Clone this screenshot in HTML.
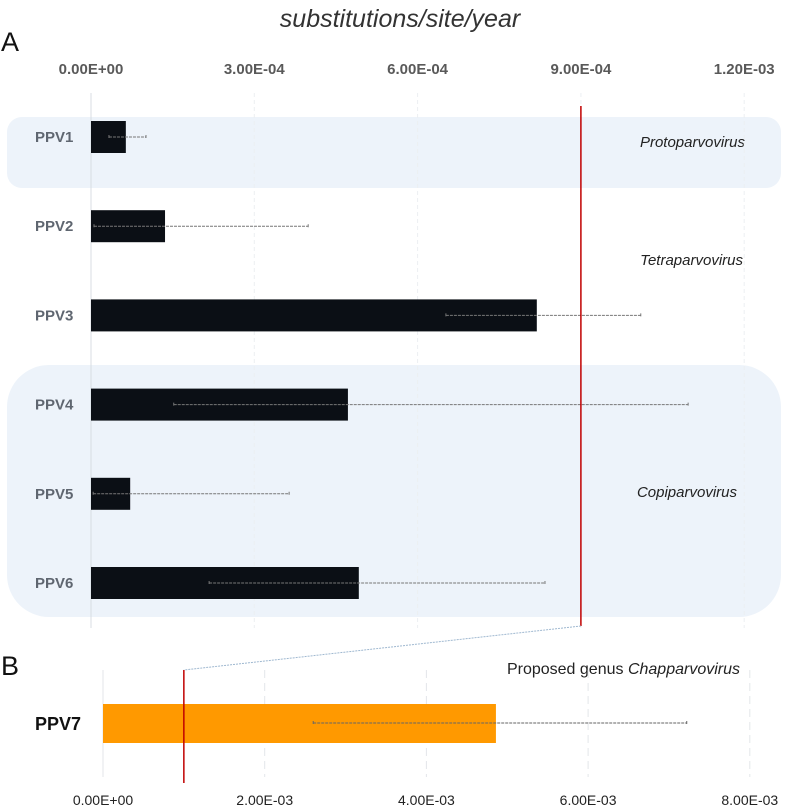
<!DOCTYPE html>
<html><head><meta charset="utf-8"><style>
body{margin:0;background:#fff;}
svg text{font-family:"Liberation Sans",sans-serif;}
</style></head><body>
<svg id="c" width="787" height="806" xmlns="http://www.w3.org/2000/svg">
<text x="400" y="27" font-size="25" font-style="italic" fill="#333" text-anchor="middle">substitutions/site/year</text>
<text x="1" y="51" font-size="27" fill="#111">A</text>
<text x="1" y="675" font-size="27" fill="#111">B</text>
<rect x="7" y="117" width="774" height="71" rx="15" fill="#edf3fa"/>
<rect x="7" y="365" width="774" height="252" rx="42" fill="#edf3fa"/>
<text x="745" y="147" font-size="15" font-style="italic" fill="#222" text-anchor="end">Protoparvovirus</text>
<text x="743" y="265" font-size="15" font-style="italic" fill="#222" text-anchor="end">Tetraparvovirus</text>
<text x="737" y="497" font-size="15" font-style="italic" fill="#222" text-anchor="end">Copiparvovirus</text>
<text x="740" y="674" font-size="16" fill="#222" text-anchor="end">Proposed genus <tspan font-style="italic">Chapparvovirus</tspan></text>
<g id="ga"></g><g id="gb"></g>
</svg>
<script>
const catsA=["PPV1","PPV2","PPV3","PPV4","PPV5","PPV6"];
const valsA=[6.4e-5,1.36e-4,8.19e-4,4.72e-4,7.2e-5,4.92e-4];
const loA=[3.3e-5,5.5e-6,6.52e-4,1.52e-4,4e-6,2.17e-4];
const hiA=[1.01e-4,3.99e-4,1.01e-3,1.097e-3,3.64e-4,8.34e-4];
const ticksA=[0,3e-4,6e-4,9e-4,1.2e-3];
const tickLabelsA=["0.00E+00","3.00E-04","6.00E-04","9.00E-04","1.20E-03"];
const thresholdA=9e-4;
const catsB=["PPV7"];
const valsB=[4.86e-3];
const loB=[2.6e-3];
const hiB=[7.22e-3];
const ticksB=[0,2e-3,4e-3,6e-3,8e-3];
const tickLabelsB=["0.00E+00","2.00E-03","4.00E-03","6.00E-03","8.00E-03"];
const thresholdB=1e-3;
const NS="http://www.w3.org/2000/svg";
const yA=i=>137+i*89.2;
const xA=v=>91+v/3e-4*163.3;
const xB=v=>103+v/2e-3*161.7;
function mk(p,t,a){const e=document.createElementNS(NS,t);for(const k in a)e.setAttribute(k,a[k]);p.appendChild(e);return e;}
const ga=document.getElementById('ga'),gb=document.getElementById('gb');
ticksA.forEach((t,i)=>{
 const g=mk(ga,'line',{x1:xA(t),x2:xA(t),y1:93,y2:628,stroke:i==0?'#d8dde3':'#eceff2','stroke-dasharray':i==0?'':'4 3'});
 
 
 const l=mk(ga,'text',{x:xA(t),y:74,'font-size':15,'font-weight':'bold',fill:'#595959','text-anchor':'middle'});l.textContent=tickLabelsA[i];
 
 
});
catsA.forEach((c,i)=>{
 const y=yA(i);
 const l=mk(ga,'text',{x:35,y:y+5,'font-size':15,'font-weight':'bold',fill:'#5f6670'});l.textContent=c;
 
 
 const b=mk(ga,'rect',{x:xA(0),y:y-16,width:xA(valsA[i])-xA(0),height:32,fill:'#0b0f15'});
 
 
 const e=mk(ga,'path',{d:`M${xA(loA[i])},${y}H${xA(hiA[i])}M${xA(loA[i])},${y-2}v4M${xA(hiA[i])},${y-2}v4`,stroke:'#777',fill:'none','stroke-width':1,'stroke-dasharray':'3 1'});
 
 
});
const ra=mk(ga,'line',{x1:xA(thresholdA),x2:xA(thresholdA),y1:106,y2:626,stroke:'#c00000','stroke-width':1.5});


const cl=mk(ga,'line',{x1:xA(thresholdA),y1:626,x2:xB(thresholdB),y2:670,stroke:'#9fb8d0','stroke-dasharray':'2 1'});


ticksB.forEach((t,i)=>{
 const g=mk(gb,'line',{x1:xB(t),x2:xB(t),y1:670,y2:777,stroke:'#e3e6ea','stroke-dasharray':i==0?'':'8 5'});
 
 
 const l=mk(gb,'text',{x:xB(t),y:805,'font-size':14,fill:'#222','text-anchor':'middle'});l.textContent=tickLabelsB[i];
 
 
});
catsB.forEach((c,i)=>{
 const y=723;
 const l=mk(gb,'text',{x:35,y:y+7,'font-size':18,'font-weight':'bold',fill:'#111'});l.textContent=c;
 
 
 const b=mk(gb,'rect',{x:xB(0),y:y-19,width:xB(valsB[i])-xB(0),height:39,fill:'#ff9900'});
 
 
 const e=mk(gb,'path',{d:`M${xB(loB[i])},${y}H${xB(hiB[i])}M${xB(loB[i])},${y-2}v4M${xB(hiB[i])},${y-2}v4`,stroke:'#666',fill:'none','stroke-width':1,'stroke-dasharray':'3 1'});
 
 
});
const rb=mk(gb,'line',{x1:xB(thresholdB),x2:xB(thresholdB),y1:670,y2:783,stroke:'#c00000','stroke-width':1.5});


</script>
</body></html>
